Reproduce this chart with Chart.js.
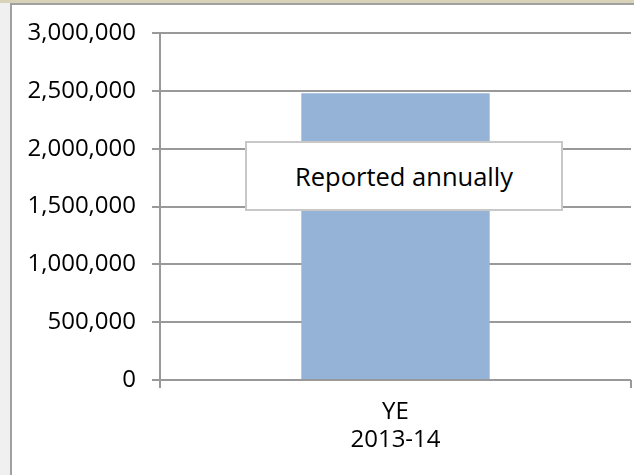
<!DOCTYPE html>
<html>
<head>
<meta charset="utf-8">
<script src="https://cdn.jsdelivr.net/npm/chart.js@4/dist/chart.umd.min.js"></script>
<style>
  html, body { margin: 0; padding: 0; }
  body { width: 634px; height: 475px; background: #f0f0f0; position: relative; overflow: hidden; }
  #topstrip { position: absolute; left: 0; top: 0; width: 634px; height: 3px; background: #d8d2b8; }
  #frame { position: absolute; left: 10px; top: 3px; width: 640px; height: 480px; background: #fff;
           border-left: 2px solid #a0a0a0; border-top: 2px solid #a0a0a0; }
  #wrap { position: absolute; left: 0; top: 0; width: 634px; height: 475px; }
  #note { position: absolute; left: 245px; top: 141px; width: 314px; height: 66px;
          border: 2px solid #c8c8c8; background: #fff; display: flex; align-items: center;
          justify-content: center; font-family: "Open Sans", sans-serif; font-size: 25.5px; color: #000; }
</style>
</head>
<body>
<div id="topstrip"></div>
<div id="frame"></div>
<div id="wrap"><canvas id="chart" width="634" height="475"></canvas></div>
<div id="note">Reported annually</div>
<script>
// data
const categories = [["YE", "2013-14"]];
const values = [2480000];
const yTicks = [0, 500000, 1000000, 1500000, 2000000, 2500000, 3000000];

const gridColor = '#999999';
const fontFamily = '"Open Sans", sans-serif';

const ctx = document.getElementById('chart').getContext('2d');

new Chart(ctx, {
    type: 'bar',
    data: {
        labels: categories,
        datasets: [{
            label: 'Value',
            data: values,
            backgroundColor: '#95B3D7',
            borderWidth: 0,
            categoryPercentage: 0.8,
            barPercentage: 0.5,
        }]
    },
    options: {
        responsive: false,
        animation: false,
        layout: {
            padding: { left: 0, right: 3, top: 33, bottom: 0 }
        },
        scales: {
            x: {
                offset: true,
                grid: {
                    offset: true,
                    drawOnChartArea: false,
                    drawTicks: true,
                    tickLength: 8,
                    color: gridColor,
                    lineWidth: 2,
                },
                border: { display: false },
                ticks: {
                    color: '#000',
                    padding: 10,
                    font: { family: fontFamily, size: 24, lineHeight: 1.17 },
                    maxRotation: 0,
                },
                afterFit: (scale) => { scale.height = 95; }
            },
            y: {
                min: 0,
                max: 3000000,
                afterBuildTicks: (scale) => {
                    scale.ticks = yTicks.map(v => ({ value: v }));
                },
                grid: {
                    color: gridColor,
                    lineWidth: 2,
                    tickLength: 8,
                },
                border: { color: gridColor, width: 2 },
                ticks: {
                    color: '#000',
                    padding: 16,
                    font: { family: fontFamily, size: 24 },
                    callback: (v) => Number(v).toLocaleString('en-US'),
                },
                afterFit: (scale) => { scale.width = 160; }
            }
        },
        plugins: {
            legend: { display: false },
            tooltip: { enabled: false }
        }
    }
});
</script>
</body>
</html>
